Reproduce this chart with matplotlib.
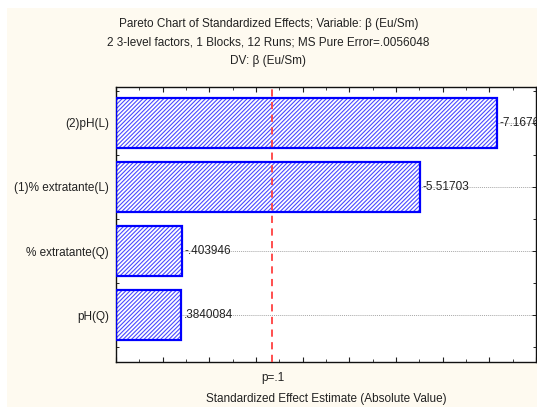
import matplotlib
matplotlib.use("Agg")
import matplotlib.pyplot as plt
from matplotlib.patches import Rectangle
from matplotlib.ticker import MultipleLocator, NullFormatter

plt.rcParams['font.family'] = ['Liberation Sans', 'DejaVu Sans']
plt.rcParams['hatch.linewidth'] = 0.8

# Effects, listed from bottom to top
factors = ['pH(Q)', '% extratante(Q)', '(1)% extratante(L)', '(2)pH(L)']
effects = [0.3840084, 0.403946, 5.51703, 7.1676]
labels = ['.3840084', '-.403946', '-5.51703', '-7.1676']
p_critical = 2.353  # t(0.95, df=3)
x_range = (-1, 8)

title_lines = ['Pareto Chart of Standardized Effects; Variable: \u03b2 (Eu/Sm)',
               '2 3-level factors, 1 Blocks, 12 Runs; MS Pure Error=.0056048',
               'DV: \u03b2 (Eu/Sm)']

fs = 8.5
ink = '#222222'
cream = '#fefaf0'
fig = plt.figure(figsize=(5.37, 4.07), dpi=100, facecolor='white')
fig.patches.append(Rectangle((7 / 537, 0), 1, 1 - 8 / 407, transform=fig.transFigure,
                             facecolor=cream, edgecolor='none', zorder=-10))

ax = fig.add_axes([116 / 537, 45 / 407, 420 / 537, 275 / 407])
ax.set_facecolor('white')

ypos = list(range(len(factors)))
x0 = x_range[0]
widths = [v - x0 for v in effects]

# horizontal reference lines through each effect
for y in ypos:
    ax.axhline(y, color='#a8a8a8', lw=0.7, ls=(0, (1, 1)), zorder=1)

ax.barh(ypos, widths, left=x0, height=0.78, facecolor='white', edgecolor='#4a4aff',
        hatch='////////', linewidth=0, zorder=2)
ax.barh(ypos, widths, left=x0, height=0.78, facecolor='none', edgecolor='#0000ff',
        linewidth=1.6, zorder=3)

for y, v, lab in zip(ypos, effects, labels):
    ax.text(v + 0.06, y, lab, ha='left', va='center', fontsize=fs, color=ink,
            zorder=4, clip_on=True)

ax.axvline(p_critical, color='#ff4040', lw=1.3, ls=(0, (4, 3)), zorder=5)

ax.set_xlim(*x_range)
ax.set_ylim(-0.73, 3.56)

ax.xaxis.set_major_locator(MultipleLocator(1))
ax.xaxis.set_minor_locator(MultipleLocator(0.5))
ax.xaxis.set_major_formatter(NullFormatter())
ax.tick_params(axis='x', which='major', direction='in', length=3.5, width=0.8,
               top=True, bottom=True, colors=ink)
ax.tick_params(axis='x', which='minor', direction='in', length=2, width=0.6,
               top=True, bottom=True, colors=ink)

ax.set_yticks(ypos)
ax.set_yticklabels(factors, fontsize=fs, color=ink)
ax.yaxis.set_minor_locator(MultipleLocator(0.5))
ax.tick_params(axis='y', which='major', direction='in', length=3, width=0.6,
               left=True, right=True, pad=5)
ax.tick_params(axis='y', which='minor', direction='in', length=2, width=0.6,
               left=True, right=True)

for s in ax.spines.values():
    s.set_color('#111111')
    s.set_linewidth(1.0)

ax.text(p_critical, -0.035, 'p=.1', transform=ax.get_xaxis_transform(), ha='center',
        va='top', fontsize=fs, color=ink)
ax.set_xlabel('Standardized Effect Estimate (Absolute Value)', fontsize=fs,
              color=ink, labelpad=19)

for i, line in enumerate(title_lines):
    fig.text(0.5, 1 - (24 + 18.5 * i) / 407, line, ha='center', va='center',
             fontsize=fs, color=ink)

fig.savefig('out.png', dpi=100, facecolor=fig.get_facecolor())
